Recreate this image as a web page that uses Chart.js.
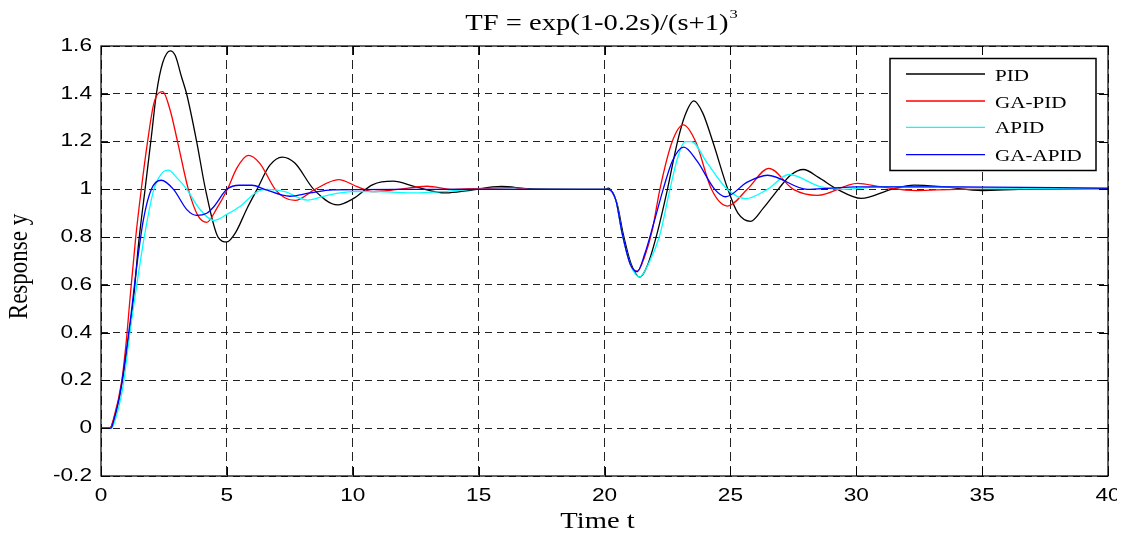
<!DOCTYPE html>
<html>
<head>
<meta charset="utf-8">
<script src="https://cdn.jsdelivr.net/npm/chart.js@4.4.1/dist/chart.umd.min.js"></script>
<style>
  body { margin: 0; background: #fff; }
  #wrap { width: 1129px; height: 534px; }
</style>
</head>
<body>
<div id="wrap"><canvas id="respChart" width="1129" height="534"></canvas></div>
<script>
// ---- data ----
const pidT = [0, 0.35, 0.5, 0.8, 1.05, 1.3, 1.5, 1.75, 2.0, 2.2, 2.45, 2.75, 2.95, 3.2, 3.4, 3.8, 4.15, 4.65, 5.0, 5.35, 5.8, 6.2, 6.7, 7.2, 7.7, 8.45, 9.4, 10.0, 10.8, 11.6, 12.5, 13.7, 14.6, 15.9, 17, 20,
  20.15, 20.3, 20.5, 20.75, 21.05, 21.4, 21.7, 22.1, 22.5, 22.9, 23.2, 23.55, 23.9, 24.3, 24.9, 25.3, 25.8, 26.3, 26.9, 27.4, 27.9, 28.5, 29.25, 30.2, 31.4, 32.3, 33.5, 35, 36.5, 40];
const pidY = [0, 0, 0.035, 0.17, 0.34, 0.55, 0.78, 1.0, 1.22, 1.4, 1.53, 1.58, 1.56, 1.47, 1.4, 1.2, 1.0, 0.8, 0.78, 0.82, 0.92, 1.0, 1.1, 1.135, 1.11, 1.0, 0.935, 0.96, 1.02, 1.034, 1.01, 0.985, 0.995, 1.012, 1.003, 1.0,
  1.005, 0.99, 0.94, 0.81, 0.69, 0.633, 0.68, 0.82, 1.0, 1.2, 1.31, 1.37, 1.32, 1.2, 1.0, 0.9, 0.866, 0.92, 1.0, 1.06, 1.083, 1.05, 1.0, 0.962, 1.0, 1.018, 1.01, 0.995, 1.0, 1.003];

const gaPidT = [0, 0.35, 0.5, 0.82, 1.0, 1.15, 1.38, 1.6, 1.85, 2.1, 2.45, 2.75, 3.04, 3.47, 3.85, 4.2, 4.6, 5.02, 5.4, 5.85, 6.3, 6.92, 7.3, 7.71, 8.5, 9.44, 10.2, 10.8, 11.8, 12.95, 14, 16.4, 17, 20,
  20.15, 20.45, 20.7, 21.03, 21.3, 21.6, 21.9, 22.2, 22.69, 23.13, 23.62, 24.25, 24.88, 25.67, 26.53, 27.5, 28.46, 30.05, 31, 32.4, 34, 40];
const gaPidY = [0, 0, 0.04, 0.195, 0.36, 0.54, 0.8, 1.0, 1.2, 1.36, 1.409, 1.33, 1.2, 1.0, 0.89, 0.862, 0.92, 1.0, 1.09, 1.142, 1.11, 1.0, 0.965, 0.954, 1.0, 1.041, 1.01, 0.99, 1.0, 1.013, 1.0, 1.007, 1.0, 1.0,
  1.0, 0.955, 0.817, 0.685, 0.657, 0.72, 0.83, 1.0, 1.2, 1.27, 1.2, 1.0, 0.93, 1.0, 1.088, 1.0, 0.975, 1.025, 1.01, 0.995, 1.0, 1.0];

const apidT = [0, 0.4, 0.55, 0.88, 1.12, 1.42, 1.75, 2.1, 2.4, 2.68, 3.0, 3.41, 3.9, 4.49, 5.0, 5.53, 6.2, 6.6, 7.3, 8.2, 9.0, 10.0, 11, 12.5, 13.5, 15, 20,
  20.15, 20.45, 20.7, 21.05, 21.4, 21.8, 22.2, 22.6, 22.9, 23.2, 23.45, 24.08, 24.88, 25.6, 26.47, 27.33, 28.6, 29.4, 31, 33, 36, 40];
const apidY = [0, 0, 0.03, 0.18, 0.38, 0.6, 0.82, 1.0, 1.065, 1.08, 1.05, 1.0, 0.92, 0.87, 0.895, 0.929, 0.99, 1.0, 0.99, 0.955, 0.975, 0.99, 0.99, 0.985, 0.99, 1.0, 1.0,
  1.0, 0.955, 0.815, 0.68, 0.633, 0.7, 0.81, 1.0, 1.13, 1.2, 1.2, 1.11, 1.0, 0.961, 1.0, 1.062, 1.01, 1.0, 1.01, 1.01, 1.005, 1.0];

const gaApidT = [0, 0.4, 0.5, 0.76, 1.15, 1.42, 1.68, 2.0, 2.39, 2.88, 3.41, 3.8, 4.2, 4.47, 5.0, 5.5, 6.0, 6.5, 7.5, 8.3, 9.2, 12, 20,
  20.15, 20.45, 20.7, 21.03, 21.3, 21.6, 21.96, 22.33, 22.7, 23.15, 23.68, 24.38, 24.81, 25.67, 26.47, 28.06, 29, 30, 34, 40];
const gaApidY = [0, 0, 0.03, 0.147, 0.44, 0.678, 0.87, 1.0, 1.038, 1.0, 0.915, 0.891, 0.9, 0.926, 1.0, 1.017, 1.017, 1.0, 0.971, 0.985, 0.998, 1.0, 1.0,
  1.0, 0.955, 0.817, 0.685, 0.655, 0.73, 0.86, 1.0, 1.12, 1.177, 1.118, 1.0, 0.969, 1.03, 1.059, 1.0, 1.005, 1.01, 1.01, 1.005];

const seriesNames = ['PID', 'GA-PID', 'APID', 'GA-APID'];
const seriesColors = ['#000000', '#ff0000', '#00ffff', '#0000ff'];
const xTicks = [0, 5, 10, 15, 20, 25, 30, 35, 40];
const yTicks = [-0.2, 0, 0.2, 0.4, 0.6, 0.8, 1, 1.2, 1.4, 1.6];
const yTickLabels = ['-0.2', '0', '0.2', '0.4', '0.6', '0.8', '1', '1.2', '1.4', '1.6'];

const SERIF = '"Liberation Serif", "Times New Roman", serif';
const SANS = '"Liberation Sans", Arial, sans-serif';
const STRETCH = 1.28; // the reference text is drawn a bit wide

function toPoints(ts, ys) {
    return ts.map((t, i) => ({ x: t, y: ys[i] }));
}

const seriesData = [
    toPoints(pidT, pidY),
    toPoints(gaPidT, gaPidY),
    toPoints(apidT, apidY),
    toPoints(gaApidT, gaApidY)
];

// text widened horizontally, like the reference
function wideText(ctx, txt, x, y, align, font, sx) {
    ctx.save();
    ctx.font = font;
    ctx.textAlign = align;
    ctx.translate(x, y);
    ctx.scale(sx, 1);
    ctx.fillText(txt, 0, 0);
    ctx.restore();
}

// box, inward ticks, tick labels, titles and legend drawn MATLAB-style
const matlabDecor = {
    id: 'matlabDecor',
    afterDraw(chart) {
        const ctx = chart.ctx;
        const a = chart.chartArea;
        const xs = chart.scales.x, ys = chart.scales.y;
        ctx.save();

        // axes box
        ctx.strokeStyle = '#000';
        ctx.lineWidth = 1.2;
        ctx.setLineDash([]);
        ctx.strokeRect(a.left, a.top, a.right - a.left, a.bottom - a.top);

        // inward ticks
        ctx.lineWidth = 1;
        ctx.beginPath();
        xTicks.forEach(v => {
            const px = Math.round(xs.getPixelForValue(v)) + 0.5;
            ctx.moveTo(px, a.bottom); ctx.lineTo(px, a.bottom - 9);
            ctx.moveTo(px, a.top); ctx.lineTo(px, a.top + 9);
        });
        yTicks.forEach(v => {
            const py = Math.round(ys.getPixelForValue(v)) + 0.5;
            ctx.moveTo(a.left, py); ctx.lineTo(a.left + 9, py);
            ctx.moveTo(a.right, py); ctx.lineTo(a.right - 9, py);
        });
        ctx.stroke();

        ctx.fillStyle = '#000';
        const tickFont = '17.7px ' + SANS;

        // y tick labels
        ctx.textBaseline = 'middle';
        yTicks.forEach((v, i) => {
            wideText(ctx, yTickLabels[i], a.left - 9, ys.getPixelForValue(v), 'right', tickFont, STRETCH);
        });

        // x tick labels (reference cuts the last one at the right)
        ctx.save();
        ctx.beginPath();
        ctx.rect(0, a.bottom, 1117, 40);
        ctx.clip();
        ctx.textBaseline = 'alphabetic';
        xTicks.forEach(v => {
            wideText(ctx, String(v), xs.getPixelForValue(v), a.bottom + 25, 'center', tickFont, STRETCH);
        });
        ctx.restore();

        // title with superscript
        ctx.textBaseline = 'alphabetic';
        const mainTxt = 'TF = exp(1-0.2s)/(s+1)';
        const mainFont = '22.5px ' + SERIF;
        const supFont = '13px ' + SERIF;
        ctx.font = mainFont;
        const w1 = ctx.measureText(mainTxt).width * 1.27;
        ctx.font = supFont;
        const w2 = ctx.measureText('3').width * 1.27;
        const tx = 601 - (w1 + w2) / 2;
        wideText(ctx, mainTxt, tx, 30, 'left', mainFont, 1.27);
        wideText(ctx, '3', tx + w1 + 1, 18, 'left', supFont, 1.27);

        // axis titles
        wideText(ctx, 'Time t', 597.5, 528, 'center', '22.5px ' + SERIF, 1.27);
        ctx.save();
        ctx.translate(20, 266.5);
        ctx.scale(1.15, 1);
        ctx.rotate(-Math.PI / 2);
        ctx.font = '23px ' + SERIF;
        ctx.textAlign = 'center';
        ctx.textBaseline = 'middle';
        ctx.fillText('Response y', 0, 0);
        ctx.restore();

        // legend
        const lx = 890, ly = 58.5, lw = 206, lh = 112;
        ctx.fillStyle = '#fff';
        ctx.fillRect(lx, ly, lw, lh);
        ctx.strokeStyle = '#000';
        ctx.lineWidth = 1.5;
        ctx.strokeRect(lx, ly, lw, lh);
        const lineRows = [74, 101, 127.3, 154.7];
        const textRows = [80.7, 108.3, 133.3, 160.7];
        ctx.textBaseline = 'alphabetic';
        seriesNames.forEach((name, i) => {
            ctx.strokeStyle = seriesColors[i];
            ctx.lineWidth = 1.3;
            ctx.beginPath();
            ctx.moveTo(906, lineRows[i]);
            ctx.lineTo(985, lineRows[i]);
            ctx.stroke();
            ctx.fillStyle = '#000';
            wideText(ctx, name, 995, textRows[i], 'left', '16.5px ' + SERIF, STRETCH);
        });
        ctx.restore();
    }
};

const ctx = document.getElementById('respChart').getContext('2d');

new Chart(ctx, {
    type: 'line',
    data: {
        datasets: seriesNames.map((name, i) => ({
            label: name,
            data: seriesData[i],
            borderColor: seriesColors[i],
            borderWidth: 1.3,
            pointRadius: 0,
            fill: false,
            cubicInterpolationMode: 'monotone',
            order: 3 - i
        }))
    },
    options: {
        responsive: false,
        animation: false,
        layout: { padding: { top: 46, right: 21, left: 0, bottom: 0 } },
        plugins: {
            legend: { display: false },
            title: { display: false },
            tooltip: { enabled: false }
        },
        scales: {
            x: {
                type: 'linear',
                min: 0,
                max: 40,
                afterFit: s => { s.height = 58; },
                afterBuildTicks: s => { s.ticks = xTicks.map(v => ({ value: v })); },
                ticks: { display: false },
                grid: {
                    color: '#222',
                    lineWidth: 1,
                    drawTicks: false
                },
                border: { display: false, dash: [9, 5] }
            },
            y: {
                type: 'linear',
                min: -0.2,
                max: 1.6,
                afterFit: s => { s.width = 101; },
                afterBuildTicks: s => { s.ticks = yTicks.map(v => ({ value: v })); },
                ticks: { display: false },
                grid: {
                    color: '#222',
                    lineWidth: 1,
                    drawTicks: false
                },
                border: { display: false, dash: [7, 5] }
            }
        }
    },
    plugins: [matlabDecor]
});
</script>
</body>
</html>
